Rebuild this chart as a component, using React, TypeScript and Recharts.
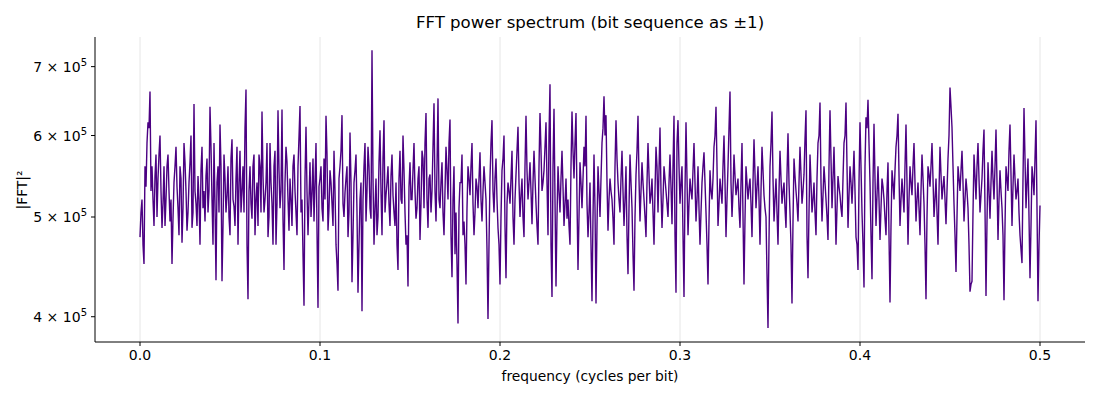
import { LineChart, Line, XAxis, YAxis, ReferenceLine } from 'recharts';

// |FFT|^2, in thousands. Even bins (0, 2, 4 ... 900) and odd bins (1, 3 ... 899)
// of a 901-bin spectrum from 0 to 0.5 cycles per bit.
const evenBinsK = [
  478, 520, 450, 535, 618, 662, 560, 490, 575, 545, 600, 488, 560, 520, 575,
  495, 450, 540, 585, 510, 560, 472, 590, 530, 505, 565, 488, 644, 515, 548,
  470, 585, 530, 548, 505, 640, 520, 590, 434, 560, 615, 433, 575, 505, 560,
  480, 595, 512, 545, 470, 580, 530, 505, 665, 416, 560, 498, 575, 520, 490,
  560, 633, 505, 540, 478, 590, 515, 560, 470, 635, 510, 636, 444, 585, 520,
  545, 490, 575, 505, 560, 641, 520, 410, 612, 480, 565, 528, 495, 590, 408,
  545, 510, 570, 627, 485, 555, 515, 580, 470, 424, 560, 628, 500, 545, 478,
  604, 432, 540, 575, 422, 520, 405, 560, 495, 585, 510, 726, 470, 545, 500,
  607, 480, 621, 525, 560, 490, 575, 505, 540, 444, 580, 515, 555, 470, 428,
  565, 520, 590, 498, 545, 475, 580, 510, 631, 488, 550, 530, 645, 495, 652,
  510, 565, 480, 585, 520, 622, 437, 560, 505, 394, 540, 575, 495, 430, 560,
  525, 590, 480, 545, 510, 578, 495, 560, 520, 398, 545, 621, 505, 570, 488,
  430, 555, 600, 436, 540, 515, 580, 470, 550, 612, 500, 545, 478, 627, 520,
  565, 492, 580, 515, 470, 631, 530, 555, 618, 480, 673, 418, 637, 428, 560,
  505, 580, 490, 545, 520, 470, 633, 545, 631, 444, 565, 510, 585, 627, 478,
  540, 414, 575, 412, 560, 500, 590, 655, 628, 485, 545, 520, 470, 621, 540,
  505, 580, 490, 560, 440, 575, 510, 424, 550, 627, 495, 565, 520, 478, 590,
  515, 545, 470, 585, 505, 611, 488, 560, 530, 500, 575, 492, 627, 422, 621,
  515, 560, 418, 618, 480, 545, 520, 590, 495, 560, 470, 540, 578, 505, 430,
  555, 520, 585, 640, 490, 545, 515, 600, 478, 560, 662, 500, 575, 525, 545,
  488, 590, 430, 560, 520, 545, 478, 595, 510, 560, 470, 585, 525, 500, 390,
  560, 633, 495, 545, 470, 580, 515, 540, 488, 603, 505, 412, 570, 530, 495,
  585, 515, 550, 635, 436, 575, 505, 540, 480, 590, 646, 495, 560, 520, 475,
  635, 510, 585, 470, 548, 525, 500, 590, 646, 488, 560, 515, 580, 478, 444,
  618, 505, 427, 625, 650, 540, 435, 616, 490, 560, 475, 545, 520, 480, 565,
  413, 555, 520, 585, 630, 490, 545, 505, 615, 470, 560, 525, 590, 495, 540,
  480, 575, 515, 416, 560, 535, 590, 500, 545, 470, 585, 520, 548, 492, 570,
  668, 611, 515, 442, 560, 530, 580, 495, 545, 510, 423, 433, 575, 520, 590,
  505, 545, 608, 419, 565, 498, 580, 520, 608, 475, 555, 510, 415, 560, 530,
  615, 490, 575, 520, 545, 480, 451, 638, 510, 570, 436, 560, 525, 621, 414,
  513,
];

const oddBinsK = [
  505, 470, 560, 590, 610, 530, 520, 548, 500, 575, 530, 515, 490, 560, 530,
  520, 498, 560, 535, 480, 545, 510, 565, 485, 540, 600, 505, 530, 490, 520,
  555, 510, 495, 570, 530, 585, 470, 515, 540, 505, 560, 490, 545, 525, 500,
  570, 520, 490, 585, 540, 505, 560, 610, 470, 530, 515, 560, 480, 540, 575,
  505, 548, 520, 590, 500, 540, 470, 580, 515, 555, 530, 498, 540, 565, 485,
  520, 560, 530, 480, 598, 505, 460, 545, 530, 520, 500, 570, 540, 485, 535,
  560, 495, 520, 575, 510, 540, 490, 530, 450, 545, 580, 515, 528, 560, 505,
  540, 480, 555, 505, 470, 540, 520, 590, 530, 560, 498, 545, 510, 480, 565,
  530, 570, 505, 540, 515, 548, 525, 490, 470, 545, 520, 600, 505, 480, 535,
  520, 555, 530, 510, 560, 515, 570, 590, 520, 545, 505, 585, 530, 560, 520,
  540, 505, 530, 555, 590, 480, 520, 460, 450, 510, 540, 480, 470, 510, 545,
  560, 515, 505, 535, 545, 520, 530, 540, 465, 470, 590, 530, 545, 520, 470,
  500, 570, 490, 515, 530, 545, 500, 520, 580, 540, 525, 500, 560, 555, 540,
  530, 540, 545, 490, 560, 580, 540, 585, 540, 600, 470, 560, 520, 500, 530,
  545, 535, 515, 498, 490, 560, 580, 590, 520, 500, 540, 545, 560, 515, 505,
  470, 500, 510, 490, 530, 545, 610, 600, 540, 520, 530, 498, 560, 570, 520,
  545, 530, 520, 480, 510, 540, 460, 500, 580, 545, 530, 540, 500, 540, 550,
  525, 505, 530, 560, 555, 530, 520, 545, 515, 540, 535, 560, 480, 590, 560,
  540, 480, 530, 545, 515, 530, 555, 540, 520, 510, 505, 560, 540, 470, 495,
  530, 545, 600, 560, 515, 530, 560, 540, 520, 610, 540, 530, 548, 535, 510,
  540, 500, 498, 540, 535, 515, 540, 550, 535, 520, 530, 555, 510, 440, 475,
  590, 545, 520, 505, 530, 545, 530, 510, 550, 540, 470, 495, 548, 515, 540,
  550, 530, 595, 480, 505, 540, 520, 505, 545, 600, 540, 525, 540, 500, 560,
  570, 545, 530, 510, 535, 510, 545, 600, 560, 525, 540, 545, 530, 470, 540,
  560, 470, 560, 610, 590, 480, 540, 545, 525, 520, 510, 535, 498, 530, 480,
  490, 540, 555, 600, 550, 520, 525, 560, 540, 520, 540, 560, 540, 520, 510,
  530, 545, 470, 500, 550, 560, 545, 520, 505, 530, 550, 535, 520, 530, 600,
  640, 560, 480, 500, 545, 555, 540, 520, 530, 470, 430, 505, 548, 560, 545,
  525, 580, 510, 495, 530, 540, 545, 560, 540, 520, 530, 480, 490, 545, 580,
  550, 535, 545, 530, 505, 465, 545, 570, 540, 500, 490, 545, 570, 510, 470,
];

const xTicks = [0, 0.1, 0.2, 0.3, 0.4, 0.5];
const yTicks = [400000, 500000, 600000, 700000];

const powerK: number[] = [];
evenBinsK.forEach((v, k) => {
  powerK.push(v);
  if (k < oddBinsK.length) powerK.push(oddBinsK[k]);
});
const FREQ_STEP = 0.5 / (powerK.length - 1);
const data = powerK.map((p, i) => ({ freq: i * FREQ_STEP, power: p * 1000 }));

const FONT = 'DejaVu Sans, sans-serif';

const YTick = ({ x, y, payload }: any) => {
  const mant = Math.round(payload.value / 1e5);
  return (
    <text x={x} y={y} dy={5} textAnchor="end" fontSize={14} fill="#000" fontFamily={FONT}>
      {mant} × 10<tspan dy={-6} fontSize={10}>5</tspan>
    </text>
  );
};

export default function App() {
  return (
    <div style={{ position: 'absolute', left: 0, top: 0, width: 1100, height: 400, background: '#fff', fontFamily: FONT }}>
      <LineChart
        width={1100}
        height={400}
        data={data}
        margin={{ top: 37, right: 15, left: 0, bottom: 0 }}
      >
        <XAxis
          dataKey="freq"
          type="number"
          domain={[-0.025, 0.525]}
          ticks={xTicks}
          tickFormatter={(v: number) => v.toFixed(1)}
          height={58}
          tick={{ fontSize: 14, fill: '#000', fontFamily: FONT }}
          tickSize={4}
          tickMargin={4}
          axisLine={{ stroke: '#000' }}
          tickLine={{ stroke: '#000' }}
        />
        <YAxis
          dataKey="power"
          scale="log"
          domain={[378000, 748000]}
          allowDataOverflow
          ticks={yTicks}
          width={95}
          tick={<YTick />}
          tickSize={4}
          tickMargin={4}
          axisLine={{ stroke: '#000' }}
          tickLine={{ stroke: '#000' }}
        />
        {xTicks.map((t) => (
          <ReferenceLine key={t} x={t} stroke="#e6e6e6" strokeWidth={1} />
        ))}
        <Line
          type="linear"
          dataKey="power"
          stroke="#4b0082"
          strokeWidth={1.4}
          dot={false}
          activeDot={false}
          isAnimationActive={false}
        />
      </LineChart>
      <div style={{ position: 'absolute', top: 13, left: 95, width: 990, textAlign: 'center', fontSize: 16.6, color: '#000' }}>
        FFT power spectrum (bit sequence as ±1)
      </div>
      <div style={{ position: 'absolute', top: 368, left: 95, width: 990, textAlign: 'center', fontSize: 13.8, color: '#000' }}>
        frequency (cycles per bit)
      </div>
      <div
        style={{
          position: 'absolute',
          left: 22,
          top: 190,
          transform: 'translate(-50%, -50%) rotate(-90deg)',
          fontSize: 13.8,
          color: '#000',
          whiteSpace: 'nowrap',
        }}
      >
        |FFT|²
      </div>
    </div>
  );
}
